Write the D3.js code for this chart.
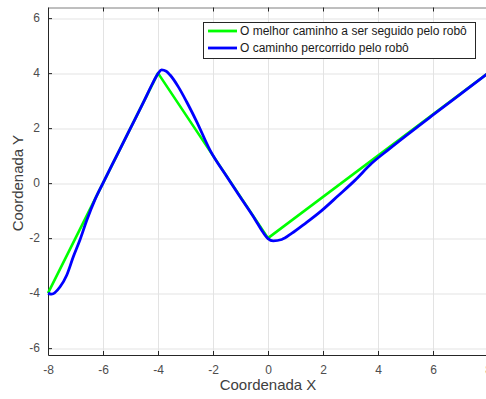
<!DOCTYPE html>
<html>
<head>
<meta charset="utf-8">
<script src="https://cdn.jsdelivr.net/npm/d3@7"></script>
<style>
  body { margin: 0; background: #fff; }
  svg { display: block; font-family: "Liberation Sans", Arial, sans-serif; }
</style>
</head>
<body>
<svg width="486" height="399"></svg>
<script>
// data
var xTicks = [-8, -6, -4, -2, 0, 2, 4, 6, 8];
var yTicks = [-6, -4, -2, 0, 2, 4, 6];

var bestX = [-8, -4, 0, 8];
var bestY = [-4, 4, -2, 4];

var robotX = [-8, -7.87, -7.56, -7.32, -7.08, -6.84, -6.59, -6.3, -6, -5.5, -5, -4.5, -4.2, -4.0, -3.87, -3.7, -3.56, -3.26, -2.96, -2.59, -2.11, -1.5, -0.9, -0.47, -0.2, 0, 0.19, 0.5, 0.86, 1.35, 1.95, 2.56, 3.16, 3.77, 4.38, 5, 6, 7, 8];
var robotY = [-4, -4.04, -3.77, -3.35, -2.68, -2.07, -1.35, -0.62, 0.0, 1.0, 2.0, 3.0, 3.62, 3.98, 4.12, 4.07, 3.93, 3.5, 2.96, 2.23, 1.2, 0.24, -0.67, -1.32, -1.76, -2.02, -2.1, -2.05, -1.83, -1.47, -1.0, -0.45, 0.1, 0.72, 1.22, 1.71, 2.48, 3.24, 4];

var legendLabels = ["O melhor caminho a ser seguido pelo robô", "O caminho percorrido pelo robô"];
var legendColors = ["#00ff00", "#0000ff"];

var svg = d3.select("svg"),
    marginLeft = 48,
    marginTop = 7.5,
    width = 440,
    height = 347.5;

var x = d3.scaleLinear().domain([-8, 8]).range([0, width]);
var y = d3.scaleLinear().domain([-6.25, 6.386]).range([height, 0]);

var g = svg.append("g")
           .attr("transform", "translate(" + marginLeft + "," + marginTop + ")");

// grid
g.selectAll(".gx")
 .data(xTicks)
 .enter()
 .append("line")
 .attr("x1", function(d) { return Math.round(x(d)) + 0.5; })
 .attr("x2", function(d) { return Math.round(x(d)) + 0.5; })
 .attr("y1", 0)
 .attr("y2", height)
 .attr("stroke", "#e3e3e3");

g.selectAll(".gy")
 .data(yTicks)
 .enter()
 .append("line")
 .attr("y1", function(d) { return Math.round(y(d)) + 0.5; })
 .attr("y2", function(d) { return Math.round(y(d)) + 0.5; })
 .attr("x1", 0)
 .attr("x2", width)
 .attr("stroke", "#e3e3e3");

// axes, ticks pointing inward; plain hyphen for negatives like the original
var fmt = function(d) { return String(d); };

var xAxis = g.append("g")
 .attr("transform", "translate(0," + height + ")")
 .call(d3.axisBottom(x).tickValues(xTicks).tickSizeInner(-4).tickSizeOuter(0).tickPadding(10).tickFormat(fmt));

var yAxis = g.append("g")
 .call(d3.axisLeft(y).tickValues(yTicks).tickSizeInner(-4).tickSizeOuter(0).tickPadding(8).tickFormat(fmt));

var topAxis = g.append("g")
 .call(d3.axisTop(x).tickValues(xTicks).tickSizeInner(-4).tickSizeOuter(0).tickFormat(""));

[xAxis, yAxis, topAxis].forEach(function(a) {
  a.select(".domain").attr("stroke", "#262626");
  a.selectAll(".tick line").attr("stroke", "#262626");
  a.selectAll(".tick text")
   .attr("fill", "#4d4d4d")
   .attr("font-size", "12px")
   .attr("font-family", "Liberation Sans, Arial, sans-serif");
});
topAxis.select(".domain").attr("stroke", "#7f7f7f");

// lines
var bestLine = d3.line()
  .x(function(d, i) { return x(bestX[i]); })
  .y(function(d, i) { return y(bestY[i]); });

var robotLine = d3.line()
  .x(function(d, i) { return x(robotX[i]); })
  .y(function(d, i) { return y(robotY[i]); })
  .curve(d3.curveMonotoneX);

g.append("path")
 .datum(bestX)
 .attr("d", bestLine)
 .attr("fill", "none")
 .attr("stroke", legendColors[0])
 .attr("stroke-width", 2.6)
 .attr("stroke-linejoin", "round");

g.append("path")
 .datum(robotX)
 .attr("d", robotLine)
 .attr("fill", "none")
 .attr("stroke", legendColors[1])
 .attr("stroke-width", 2.8)
 .attr("stroke-linejoin", "round");

// axis titles
svg.append("text")
   .attr("x", marginLeft + x(0))
   .attr("y", 390)
   .attr("text-anchor", "middle")
   .attr("font-size", "15px")
   .attr("fill", "#404040")
   .text("Coordenada X");

svg.append("text")
   .attr("transform", "translate(23," + (marginTop + y(0)) + ") rotate(-90)")
   .attr("text-anchor", "middle")
   .attr("font-size", "15px")
   .attr("fill", "#404040")
   .text("Coordenada Y");

// legend
var lg = svg.append("g").attr("transform", "translate(203,22)");

lg.append("rect")
  .attr("x", 0.5)
  .attr("y", 0.5)
  .attr("width", 272)
  .attr("height", 36)
  .attr("fill", "#fff")
  .attr("stroke", "#262626");

legendLabels.forEach(function(label, i) {
  lg.append("line")
    .attr("x1", 5)
    .attr("x2", 34)
    .attr("y1", 9 + i * 17)
    .attr("y2", 9 + i * 17)
    .attr("stroke", legendColors[i])
    .attr("stroke-width", 2.8);
  lg.append("text")
    .attr("x", 37)
    .attr("y", 9 + i * 17)
    .attr("dy", "0.35em")
    .attr("font-size", "12px")
    .attr("fill", "#1a1a1a")
    .text(label);
});
</script>
</body>
</html>
